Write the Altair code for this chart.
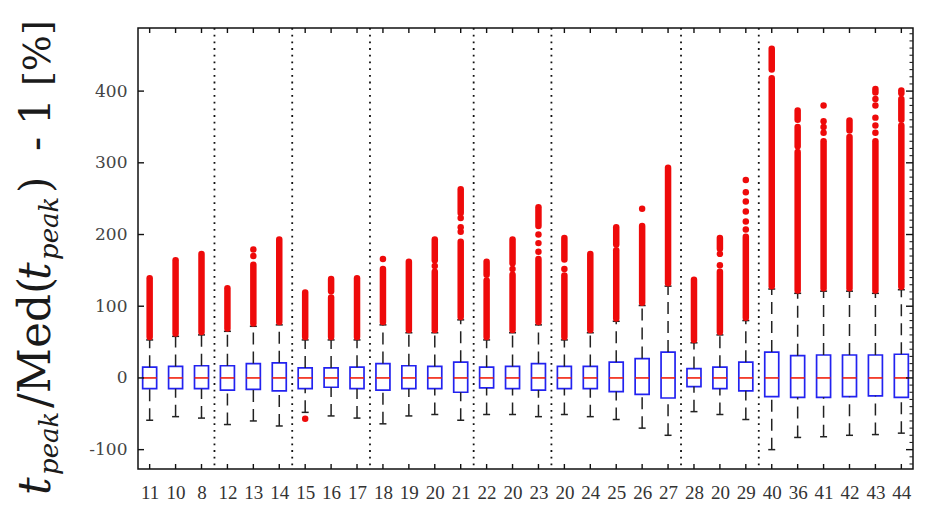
import json
import altair as alt
import pandas as pd

# ---- box statistics, one entry per data set (percent deviation from median) ----
labels = ["11", "10", "8", "12", "13", "14", "15", "16", "17", "18", "19", "20", "21",
          "22", "20", "23", "20", "24", "25", "26", "27", "28", "20", "29",
          "40", "36", "41", "42", "43", "44"]
group_sizes = [3, 3, 3, 4, 3, 5, 3, 6]

q1 = [-15, -15, -15, -17, -16, -18, -15, -13, -15, -17,
      -15, -15, -20, -14, -15, -17, -15, -15, -19, -23,
      -28, -12, -15, -18, -26, -27, -27, -26, -25, -27]
med = [0, 0, 0, 0, 0, 0, 0, 0, 0, 0,
       0, 0, 0, 0, 0, 0, 0, 0, 0, 0,
       0, 0, 0, 0, 0, 0, 0, 0, 0, 0]
q3 = [15, 16, 17, 17, 20, 21, 14, 14, 15, 20,
      17, 16, 22, 15, 16, 20, 16, 16, 22, 27,
      36, 13, 15, 22, 36, 31, 32, 32, 32, 33]
whisker_lo = [-59, -54, -56, -65, -60, -67, -48, -53, -56, -64,
              -53, -51, -59, -51, -51, -54, -51, -54, -58, -70,
              -80, -47, -51, -58, -100, -83, -82, -80, -79, -77]
whisker_hi = [53, 58, 60, 65, 72, 74, 53, 53, 53, 74,
              63, 63, 81, 53, 63, 74, 53, 63, 79, 101,
              128, 49, 60, 80, 124, 118, 121, 121, 118, 123]

# dense runs of outliers: (box index, lowest, highest)
outlier_runs = [
    (0, 57, 139), (1, 62, 164), (2, 64, 173), (3, 69, 125), (4, 76, 158),
    (5, 78, 193), (6, 57, 119), (7, 57, 112), (7, 121, 138), (8, 57, 139),
    (9, 78, 152), (10, 67, 162), (11, 67, 148), (11, 164, 193),
    (12, 85, 190), (12, 230, 263), (13, 57, 136), (13, 144, 162),
    (14, 67, 144), (14, 160, 193), (15, 78, 166), (15, 212, 238),
    (16, 57, 143), (16, 165, 195), (17, 67, 173), (18, 83, 178), (18, 186, 210),
    (19, 105, 212), (20, 132, 293), (21, 53, 137), (22, 64, 148), (22, 180, 195),
    (23, 84, 197), (24, 128, 418), (24, 430, 459),
    (25, 122, 315), (25, 323, 350), (25, 360, 373),
    (26, 125, 330), (27, 125, 336), (27, 345, 359),
    (28, 122, 330), (28, 398, 403),
    (29, 127, 352), (29, 360, 389), (29, 397, 401),
]
# isolated outliers: (box index, value)
outlier_dots = [
    (4, 170), (4, 179), (6, -57), (9, 166), (11, 156),
    (12, 204), (12, 210), (12, 223), (14, 152),
    (15, 176), (15, 188), (15, 200), (16, 152), (19, 236),
    (22, 157), (22, 173),
    (23, 207), (23, 218), (23, 232), (23, 246), (23, 259), (23, 276),
    (26, 342), (26, 350), (26, 358), (26, 380),
    (28, 342), (28, 352), (28, 363), (28, 380), (28, 389),
]
y_ticks = [-100, 0, 100, 200, 300, 400]
y_minor = [v for v in range(-120, 490, 10) if v % 100 != 0]

# ---- frames ----
boxes = pd.DataFrame({"i": list(range(len(labels))), "label": labels, "q1": q1, "med": med,
                      "q3": q3, "wlo": whisker_lo, "whi": whisker_hi})
runs = pd.DataFrame(outlier_runs, columns=["box", "lo", "hi"])
dots = pd.DataFrame(outlier_dots, columns=["box", "val"])
cuts, acc = [], 0
for g in group_sizes[:-1]:
    acc += g
    cuts.append(acc - 0.5)
seps = pd.DataFrame({"pos": cuts})
yt = pd.DataFrame({"v": y_ticks})
ym = pd.DataFrame({"v": y_minor})

W, H = 775, 441
RED = "#ee0a0a"
BLUE = "#2222f0"
BOX_HALF = 0.27
CAP_HALF = 0.135

xs = alt.Scale(domain=[-0.45, 29.45], nice=False, zero=False)
ys = alt.Scale(domain=[-127, 488], nice=False, zero=False)

x_axis = alt.Axis(values=list(range(len(labels))),
                  labelExpr=f"{json.dumps(labels)}[datum.value]",
                  ticks=False, domain=False, grid=False, title=None,
                  labelFont="Liberation Serif", labelFontSize=19, labelColor="#333",
                  labelPadding=14, labelOverlap=False, labelFlush=False, labelBound=False)
y_axis = alt.Axis(values=y_ticks, labelExpr="'' + datum.value",
                  ticks=False, domain=False, grid=False, title=None,
                  labelFont="DejaVu Serif", labelFontSize=17, labelColor="#444",
                  labelPadding=11, labelOverlap=False)


def X(field):
    return alt.X(field, scale=xs, axis=x_axis)


def Y(field):
    return alt.Y(field, scale=ys, axis=y_axis)


base = alt.Chart(boxes).transform_calculate(
    xl=f"datum.i - {BOX_HALF}", xr=f"datum.i + {BOX_HALF}",
    cl=f"datum.i - {CAP_HALF}", cr=f"datum.i + {CAP_HALF}")

box = base.mark_rect(fill="white", stroke=BLUE, strokeWidth=1.7).encode(
    x=X("xl:Q"), x2="xr:Q", y=Y("q1:Q"), y2="q3:Q")
median = base.mark_rule(strokeWidth=1.6, color="#f2200c").encode(
    x=X("xl:Q"), x2="xr:Q", y=Y("med:Q"))

separators = alt.Chart(seps).mark_rule(
    strokeDash=[1.8, 4.9], strokeWidth=1.8, color="#111").encode(
    x=X("pos:Q"), y=alt.value(0), y2=alt.value(H))

whisk_lo = base.mark_rule(strokeDash=[12, 7], strokeWidth=1.5, color="#222").encode(
    x=X("i:Q"), y=Y("wlo:Q"), y2="q1:Q")
whisk_hi = base.mark_rule(strokeDash=[12, 7], strokeWidth=1.5, color="#222").encode(
    x=X("i:Q"), y=Y("q3:Q"), y2="whi:Q")
cap_lo = base.mark_rule(strokeWidth=1.5, color="#222").encode(
    x=X("cl:Q"), x2="cr:Q", y=Y("wlo:Q"))
cap_hi = base.mark_rule(strokeWidth=1.5, color="#222").encode(
    x=X("cl:Q"), x2="cr:Q", y=Y("whi:Q"))

out_runs = alt.Chart(runs).mark_rule(strokeWidth=6.5, strokeCap="round", color=RED).encode(
    x=X("box:Q"), y=Y("lo:Q"), y2="hi:Q")
out_dots = alt.Chart(dots).mark_circle(size=42, opacity=1, color=RED).encode(
    x=X("box:Q"), y=Y("val:Q"))

# inward tick marks on all four sides
tick_style = dict(strokeWidth=1.4, color="#111")
left_ticks = alt.Chart(yt).mark_rule(**tick_style).encode(
    x=alt.value(0), x2=alt.value(6), y=Y("v:Q"))
right_ticks = alt.Chart(yt).mark_rule(**tick_style).encode(
    x=alt.value(W - 7), x2=alt.value(W), y=Y("v:Q"))
right_minor = alt.Chart(ym).mark_rule(strokeWidth=1.1, color="#222").encode(
    x=alt.value(W - 3.5), x2=alt.value(W), y=Y("v:Q"))
top_ticks = alt.Chart(boxes).mark_rule(**tick_style).encode(
    x=X("i:Q"), y=alt.value(0), y2=alt.value(5))
bottom_ticks = alt.Chart(boxes).mark_rule(**tick_style).encode(
    x=X("i:Q"), y=alt.value(H - 5), y2=alt.value(H))


def title_piece(text, along, across, size, italic):
    return alt.Chart(pd.DataFrame({"t": [text]})).mark_text(
        angle=270, align="left", baseline="alphabetic", font="DejaVu Serif",
        fontSize=size, fontStyle="italic" if italic else "normal", color="#1a1a1a"
    ).encode(x=alt.value(across), y=alt.value(along), text="t:N")


# rotated y title: t_peak / Med(t_peak) - 1 [%]
y_title = [
    title_piece("t", 467, -88, 44, True),
    title_piece("peak", 447, -80, 26, True),
    title_piece("/Med(", 380, -88, 44, False),
    title_piece("t", 252, -88, 44, True),
    title_piece("peak", 232, -80, 26, True),
    title_piece(")", 165, -88, 42, False),
    title_piece("-", 123, -88, 42, False),
    title_piece("1", 97, -88, 42, False),
    title_piece("[%]", 58, -88, 38, False),
]

chart = alt.layer(
    box, median, separators, whisk_lo, whisk_hi, cap_lo, cap_hi,
    out_runs, out_dots, left_ticks, right_ticks, right_minor, top_ticks, bottom_ticks,
    *y_title,
).properties(
    width=W, height=H,
    autosize=alt.AutoSizeParams(type="none"),
    padding={"left": 138, "top": 28, "right": 18, "bottom": 42},
).configure_view(stroke="#111", strokeWidth=1.5)

chart.save("out.html", embed_options={"renderer": "svg", "actions": False})
